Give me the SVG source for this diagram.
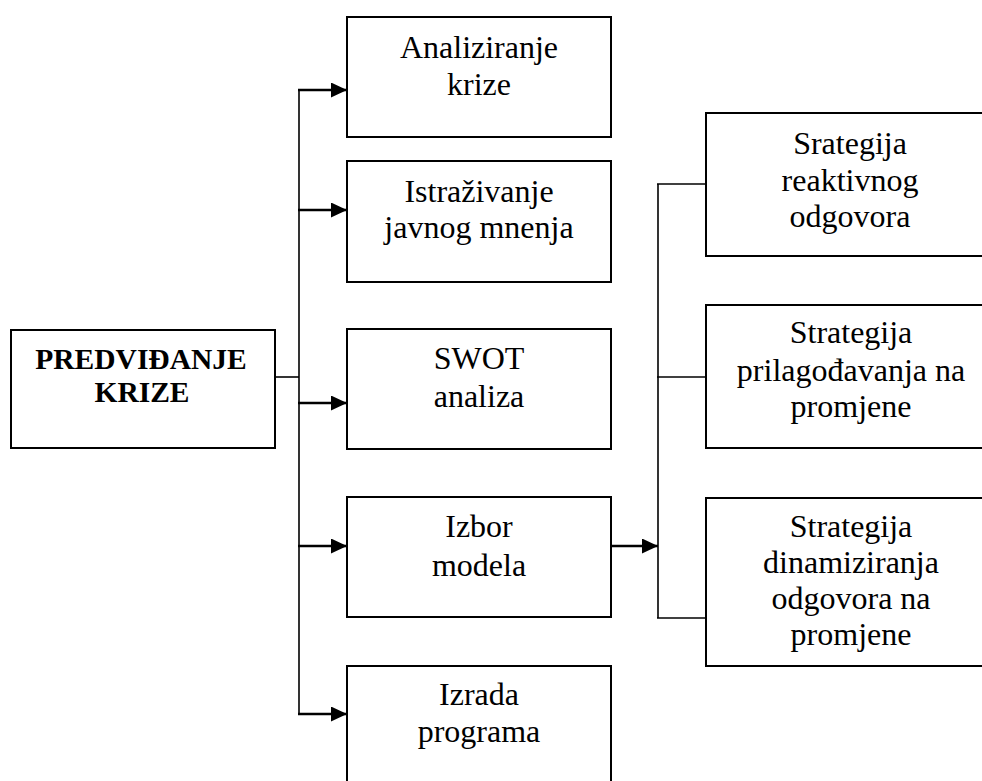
<svg xmlns="http://www.w3.org/2000/svg" width="982" height="781" viewBox="0 0 982 781">
<style>
.box{fill:#fff;stroke:#000;stroke-width:2}
.t{font-family:"Liberation Serif","Times New Roman",serif;font-size:32px;fill:#000;text-anchor:middle}
.tb{font-family:"Liberation Serif","Times New Roman",serif;font-size:29.5px;font-weight:bold;fill:#000;text-anchor:middle}
.ln{fill:none;stroke:#000;stroke-width:1.6}
.ar{fill:none;stroke:#000;stroke-width:2.4;marker-end:url(#ah)}
</style>
<defs>
<marker id="ah" markerUnits="userSpaceOnUse" markerWidth="16" markerHeight="15" refX="16" refY="7.5" orient="auto">
<path d="M0,0 L16,7.5 L0,15 z" fill="#000"/>
</marker>
</defs>
<rect width="982" height="781" fill="#fff"/>
<g id="connectors">
<path class="ln" d="M275,377 H299"/>
<path class="ln" d="M299,90 V714"/>
<path class="ar" d="M298,90 H347"/>
<path class="ar" d="M298,210 H347"/>
<path class="ar" d="M298,403 H347"/>
<path class="ar" d="M298,546 H347"/>
<path class="ar" d="M298,714 H347"/>
<path class="ar" d="M611,546 H658"/>
<path class="ln" d="M658,184 V618"/>
<path class="ln" d="M657,184 H706"/>
<path class="ln" d="M657,377 H706"/>
<path class="ln" d="M657,618 H706"/>
</g>
<g id="predvidjanje">
<rect class="box" x="11" y="330" width="264" height="118"/>
<text class="tb" x="141" y="369">PREDVIĐANJE</text>
<text class="tb" x="142" y="402">KRIZE</text>
</g>
<g id="analiziranje">
<rect class="box" x="347" y="17" width="264" height="120"/>
<text class="t" x="479" y="58">Analiziranje</text>
<text class="t" x="479" y="95">krize</text>
</g>
<g id="istrazivanje">
<rect class="box" x="347" y="161" width="264" height="121"/>
<text class="t" x="479" y="202">Istraživanje</text>
<text class="t" x="479" y="238">javnog mnenja</text>
</g>
<g id="swot">
<rect class="box" x="347" y="329" width="264" height="120"/>
<text class="t" x="479" y="369">SWOT</text>
<text class="t" x="479" y="407">analiza</text>
</g>
<g id="izbor">
<rect class="box" x="347" y="497" width="264" height="120"/>
<text class="t" x="479" y="537">Izbor</text>
<text class="t" x="479" y="576">modela</text>
</g>
<g id="izrada">
<rect class="box" x="347" y="666" width="264" height="130"/>
<text class="t" x="479" y="705">Izrada</text>
<text class="t" x="479" y="742">programa</text>
</g>
<g id="reaktivni">
<rect class="box" x="706" y="113" width="290" height="143"/>
<text class="t" x="850" y="154">Srategija</text>
<text class="t" x="850" y="191">reaktivnog</text>
<text class="t" x="850" y="227">odgovora</text>
</g>
<g id="prilagodjavanje">
<rect class="box" x="706" y="305" width="290" height="143"/>
<text class="t" x="851" y="343">Strategija</text>
<text class="t" x="851" y="381">prilagođavanja na</text>
<text class="t" x="851" y="417">promjene</text>
</g>
<g id="dinamiziranje">
<rect class="box" x="706" y="498" width="290" height="168"/>
<text class="t" x="851" y="537">Strategija</text>
<text class="t" x="851" y="573">dinamiziranja</text>
<text class="t" x="851" y="609">odgovora na</text>
<text class="t" x="851" y="645">promjene</text>
</g>
</svg>
